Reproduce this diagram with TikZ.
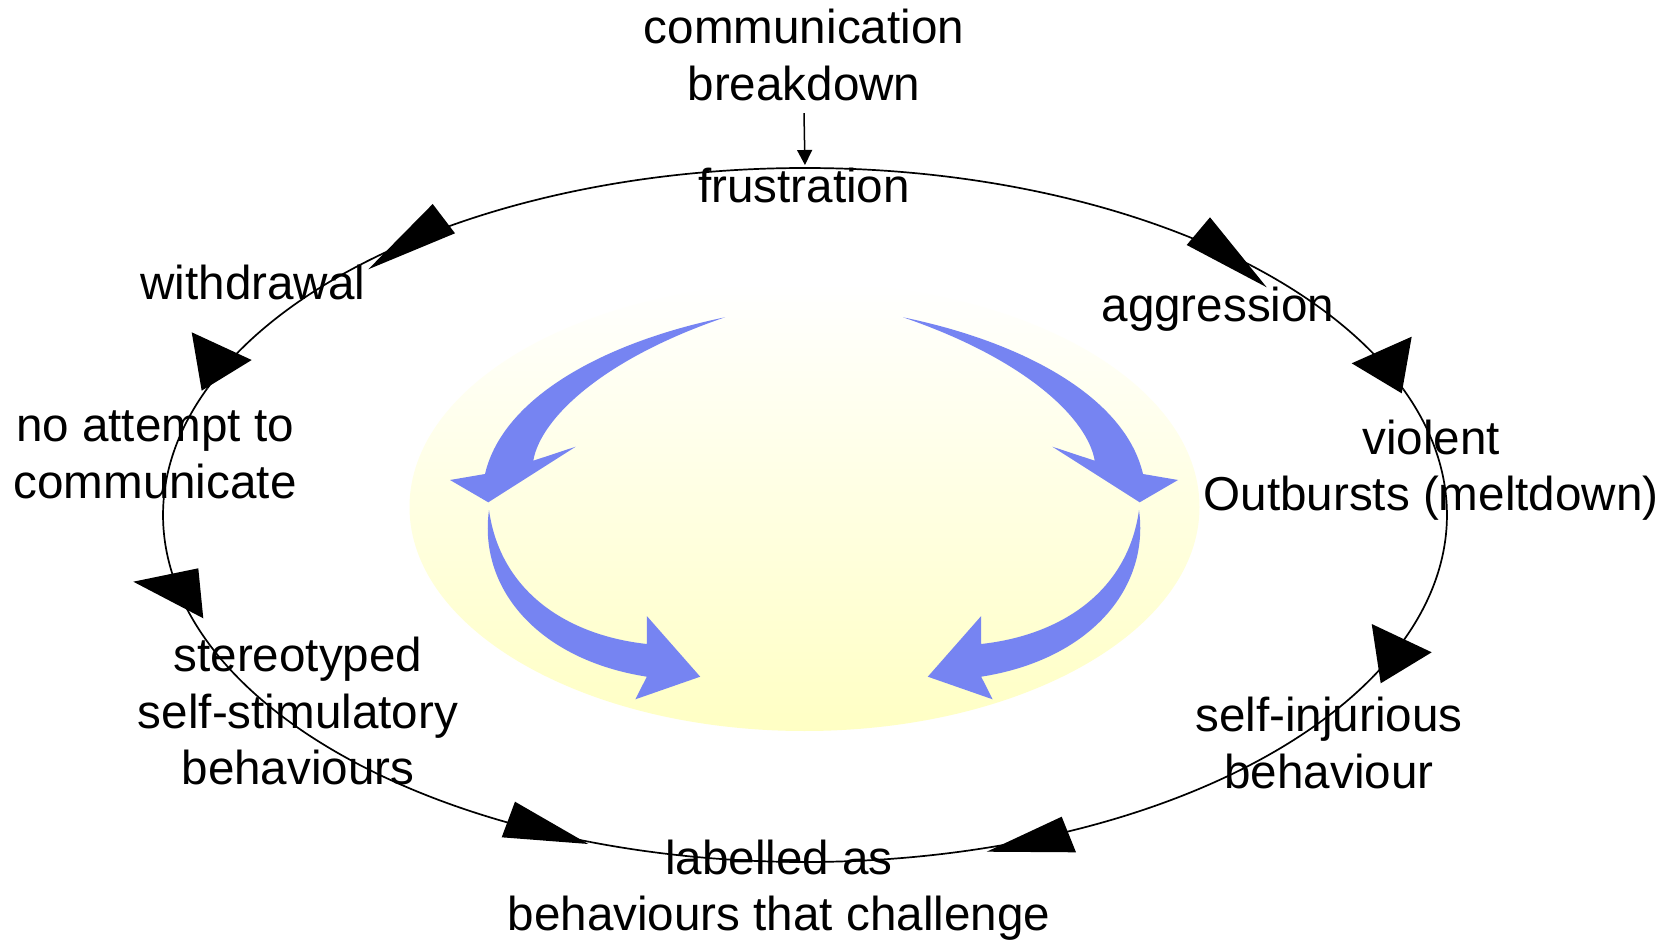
\documentclass[tikz,border=0pt]{standalone}
\usepackage{fontspec}
\setmainfont{Liberation Sans}
\usetikzlibrary{arrows.meta,calc}
\definecolor{flowblue}{RGB}{118,132,242}
\definecolor{paleyellow}{RGB}{255,255,196}

\begin{document}
\begin{tikzpicture}[x=0.5pt,y=-0.5pt,
  lbl/.style={inner sep=0pt, align=center, font=\fontsize{23.8}{28.3}\selectfont},
  ring/.style={draw=black, line width=0.85pt},
  head/.style={fill=black},
  flow/.style={fill=flowblue},
  ringarc/.style={x radius=321pt, y radius=173.5pt},
  upperflow/.pic={
    \fill[flow] (725,317.3) .. controls (605,342) and (503,397) .. (485,474)
      -- (450,480) -- (488.3,502.3) -- (575.7,446.7) -- (533.3,460.7)
      .. controls (540,420) and (600,360) .. cycle;
  },
  lowerflow/.pic={
    \fill[flow] (489,510) .. controls (478,590) and (540,660) .. (646.8,676.7)
      -- (635.4,699.3) -- (700.2,676.7) -- (646.8,616) -- (646.8,644)
      .. controls (565,635) and (500,590) .. cycle;
  }]
\fill[white] (0,0) rectangle (1677,941);
\useasboundingbox (0,0) rectangle (1677,941);

% pale centre disc with the four curved arrows
\shade[top color=white, bottom color=paleyellow] (804.5,507) ellipse[x radius=197.5pt, y radius=112pt];
\pic at (0,0) {upperflow};
\pic[xscale=-1] at (1628,0) {upperflow};
\pic at (0,0) {lowerflow};
\pic[xscale=-1] at (1628,0) {lowerflow};

% labels
\node[lbl] (comm) at (804,55) {communication\\breakdown};
\node[lbl] (frus) at (804,185) {frustration};
\node[lbl] (withd) at (253,282) {withdrawal};
\node[lbl] (aggr) at (1218,309) {aggression};
\node[lbl] (noatt) at (155,455) {no attempt to\\communicate};
\node[lbl] (viol) at (1431,470) {violent\\Outbursts (meltdown)};
\node[lbl] (stereo) at (298,711) {stereotyped\\self-stimulatory\\behaviours};
\node[lbl] (selfinj) at (1329,743) {self-injurious\\behaviour};
\node[lbl] (lab) at (779,890) {labelled as\\behaviours that challenge};

% points on the ring
\coordinate (ctr) at (805,515);
\coordinate (rtop) at ($(ctr)+(90:321pt and 173.5pt)$);
\coordinate (rwith) at ($(ctr)+(133.8:321pt and 173.5pt)$);
\coordinate (rnoatt) at ($(ctr)+(158.6:321pt and 173.5pt)$);
\coordinate (rstereo) at ($(ctr)+(195.9:321pt and 173.5pt)$);
\coordinate (rlabl) at ($(ctr)+(250.4:321pt and 173.5pt)$);
\coordinate (rbot) at ($(ctr)+(270:321pt and 173.5pt)$);
\coordinate (raggr) at ($(ctr)+(42.4:321pt and 173.5pt)$);
\coordinate (rviol) at ($(ctr)+(21.2:321pt and 173.5pt)$);
\coordinate (rself) at ($(ctr)+(-27.6:321pt and 173.5pt)$);
\coordinate (rlabr) at ($(ctr)+(-73.7:321pt and 173.5pt)$);

% left branch of the ring
\draw[ring] (rtop) arc[start angle=90, end angle=133.8, ringarc];
\draw[ring] (rwith) arc[start angle=133.8, end angle=158.6, ringarc];
\draw[ring] (rnoatt) arc[start angle=158.6, end angle=195.9, ringarc];
\draw[ring] (rstereo) arc[start angle=195.9, end angle=250.4, ringarc];
\draw[ring] (rlabl) arc[start angle=250.4, end angle=270, ringarc];
% right branch of the ring
\draw[ring] (rtop) arc[start angle=90, end angle=42.4, ringarc];
\draw[ring] (raggr) arc[start angle=42.4, end angle=21.2, ringarc];
\draw[ring] (rviol) arc[start angle=21.2, end angle=-27.6, ringarc];
\draw[ring] (rself) arc[start angle=-27.6, end angle=-73.7, ringarc];
\draw[ring] (rlabr) arc[start angle=-73.7, end angle=-90, ringarc];

% arrowheads lying on the ring
\fill[head] (432.7,204) -- (455,233.3) -- (368.3,269.3) -- cycle;
\fill[head] (191.7,332.3) -- (201.7,390.7) -- (251.7,360) -- cycle;
\fill[head] (133.3,581.7) -- (198.3,568.3) -- (203.3,618.3) -- cycle;
\fill[head] (515,801.7) -- (501.7,837.3) -- (588.3,844) -- cycle;
\fill[head] (1210,217.3) -- (1186.7,245) -- (1266.7,287.3) -- cycle;
\fill[head] (1411.7,336.7) -- (1351.7,363.3) -- (1401.7,393.3) -- cycle;
\fill[head] (1371.7,624) -- (1431.7,652.3) -- (1380.7,683.3) -- cycle;
\fill[head] (1061.7,816.7) -- (1076,852.3) -- (986.7,851.7) -- cycle;

% trigger arrow into the ring
\draw[line width=0.75pt, -{Triangle[length=7.5pt, width=7.5pt]}, shorten >=1.5pt]
  ([yshift=-6pt]comm.south) -- (rtop);
\end{tikzpicture}
\end{document}
